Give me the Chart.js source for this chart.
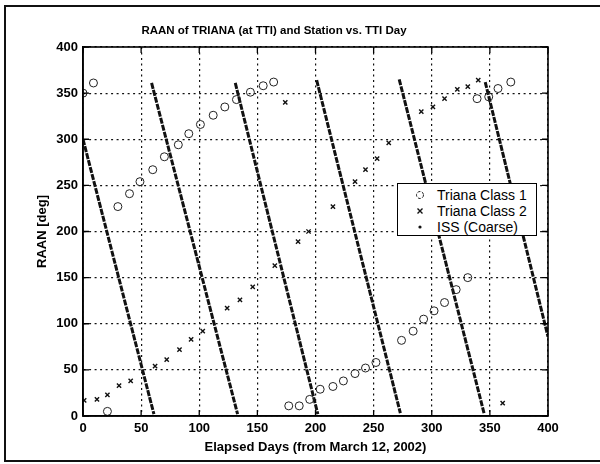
<!DOCTYPE html>
<html><head><meta charset="utf-8">
<script src="https://cdn.jsdelivr.net/npm/chart.js@4"></script>
<style>
html,body{margin:0;padding:0;background:#fff;}
#wrap{position:relative;width:600px;height:464px;overflow:hidden;background:#fff;}
#c{position:absolute;left:0;top:0;}
.frame{position:absolute;background:#111;}
#legend{position:absolute;left:397px;top:183px;width:140px;height:53px;border:1px solid #000;background:#fff;font-family:"Liberation Sans",Arial,sans-serif;font-size:14px;color:#000;box-sizing:border-box;}
.row{position:absolute;left:0;width:138px;height:16px;line-height:16px;}
.row svg{position:absolute;left:17px;top:3px;}
.row span{position:absolute;left:39px;top:0;white-space:nowrap;}
</style></head>
<body>
<div id="wrap">
<canvas id="c" width="600" height="464"></canvas>
<div class="frame" style="left:4px;top:5px;width:2px;height:457px;"></div>
<div class="frame" style="left:4px;top:5px;width:596px;height:2px;"></div>
<div class="frame" style="left:4px;top:460px;width:596px;height:2px;"></div>
<div id="legend"></div>
</div>
<script>
// ---- data ----
const chartTitle = 'RAAN of TRIANA (at TTI) and Station vs. TTI Day';
const xTitle = 'Elapsed Days (from March 12, 2002)';
const yTitle = 'RAAN [deg]';
const seriesNames = ['Triana Class 1', 'Triana Class 2', 'ISS (Coarse)'];

const class1Days = [0, 9, 21, 30, 40, 49, 60, 70, 82, 91, 101, 112, 122, 132, 144, 155, 164, 177, 186, 195, 204, 215, 224, 234, 243, 252, 274, 284, 293, 302, 311, 321, 331, 339, 349, 357, 368];
const class1Raan = [350, 361, 5, 227, 241, 254, 267, 281, 294, 306, 316, 326, 335, 343, 351, 358, 362, 11, 11, 18, 29, 32, 38, 46, 52, 58, 82, 92, 105, 114, 123, 137, 150, 344, 346, 355, 362];

const class2Days = [1, 12, 21, 31, 41, 62, 72, 83, 93, 103, 124, 135, 146, 165, 174, 185, 194, 215, 234, 243, 253, 263, 291, 301, 311, 322, 331, 340, 361];
const class2Raan = [17, 18, 23, 33, 38, 54, 61, 72, 83, 92, 117, 126, 140, 163, 340, 189, 200, 227, 254, 267, 279, 296, 330, 335, 344, 354, 357, 364, 14];

// ISS coarse tracks: each sweep starts high and falls to low RAAN
const issStartDay  = [0, 59, 131, 201, 272, 346];
const issStartRaan = [300, 361, 361, 364, 365, 362];
const issEndDay    = [61, 133, 202, 273, 345, 400];
const issEndRaan   = [2, 2, 2, 3, 3, 86];

const xTickMin = 0, xTickMax = 400, xTickStep = 50;
const yTickMin = 0, yTickMax = 400, yTickStep = 50;

// ---- build datasets ----
const FONT = '"Liberation Sans", Arial, sans-serif';
const pts = (xs, ys) => xs.map((d, i) => ({x: d, y: ys[i]}));
const issData = [];
issStartDay.forEach((d, i) => {
  issData.push({x: d, y: issStartRaan[i]});
  issData.push({x: issEndDay[i], y: issEndRaan[i]});
  if (i < issStartDay.length - 1) issData.push({x: issEndDay[i], y: null});
});

const frameTicks = {
  id: 'frameTicks',
  afterDraw(chart) {
    const {ctx, chartArea: a, scales: {x, y}} = chart;
    ctx.save();
    ctx.strokeStyle = '#000';
    ctx.lineWidth = 1.6;
    ctx.setLineDash([]);
    ctx.strokeRect(a.left, a.top, a.right - a.left, a.bottom - a.top);
    ctx.lineWidth = 1.3;
    const L = 6;
    ctx.beginPath();
    x.ticks.forEach(t => {
      const px = x.getPixelForValue(t.value);
      ctx.moveTo(px, a.bottom); ctx.lineTo(px, a.bottom - L);
      ctx.moveTo(px, a.top); ctx.lineTo(px, a.top + L);
    });
    y.ticks.forEach(t => {
      const py = y.getPixelForValue(t.value);
      ctx.moveTo(a.left, py); ctx.lineTo(a.left + L, py);
      ctx.moveTo(a.right, py); ctx.lineTo(a.right - L, py);
    });
    ctx.stroke();
    ctx.restore();
  }
};

new Chart(document.getElementById('c'), {
  type: 'scatter',
  data: {
    datasets: [
      {
        label: seriesNames[0], data: pts(class1Days, class1Raan),
        pointStyle: 'circle', pointRadius: 4, borderWidth: 1,
        borderColor: '#222', backgroundColor: 'rgba(0,0,0,0)', showLine: false
      },
      {
        label: seriesNames[1], data: pts(class2Days, class2Raan),
        pointStyle: 'crossRot', pointRadius: 3, borderWidth: 1.4,
        borderColor: '#111', backgroundColor: '#111', showLine: false
      },
      {
        label: seriesNames[2], data: issData, type: 'line',
        showLine: true, spanGaps: false, pointRadius: 0, borderWidth: 3,
        borderColor: '#111', borderDash: [6, 1.2], fill: false, tension: 0
      }
    ]
  },
  options: {
    responsive: false, animation: false, devicePixelRatio: 1,
    layout: {padding: {left: 0, right: 52, top: 0, bottom: 0}},
    plugins: {
      legend: {display: false},
      tooltip: {enabled: false},
      title: {
        display: true, text: chartTitle, color: '#000',
        font: {family: FONT, size: 11.5, weight: 'bold', lineHeight: 1.2},
        padding: {top: 24.1, bottom: 9.1}
      }
    },
    scales: {
      x: {
        type: 'linear', min: xTickMin, max: xTickMax,
        ticks: {stepSize: xTickStep, color: '#000', padding: 5,
                font: {family: FONT, size: 13, weight: 'bold'}},
        grid: {color: '#111', lineWidth: 1.2, drawTicks: false},
        border: {display: true, color: '#000', width: 1.6, dash: [2, 3.5]},
        title: {display: true, text: xTitle, color: '#000',
                font: {family: FONT, size: 13, weight: 'bold', lineHeight: 1.2},
                padding: {top: 0, bottom: 9.2}},
        afterFit: s => { s.height = 48; }
      },
      y: {
        type: 'linear', min: yTickMin, max: yTickMax,
        ticks: {stepSize: yTickStep, color: '#000', padding: 5,
                font: {family: FONT, size: 13, weight: 'bold'}},
        grid: {color: '#111', lineWidth: 1.2, drawTicks: false},
        border: {display: true, color: '#000', width: 1.6, dash: [2, 3.5]},
        title: {display: true, text: yTitle, color: '#000',
                font: {family: FONT, size: 13, weight: 'bold', lineHeight: 1.2},
                padding: {top: 34.2, bottom: 0}},
        afterFit: s => { s.width = 83; }
      }
    }
  },
  plugins: [frameTicks]
});

// ---- legend (HTML text) ----
const markers = [
  '<svg width="10" height="10"><circle cx="5" cy="5" r="3.5" fill="none" stroke="#222" stroke-width="1" stroke-dasharray="3 1.5"/></svg>',
  '<svg width="10" height="10"><path d="M2.5 2.5 L7.5 7.5 M7.5 2.5 L2.5 7.5" stroke="#111" stroke-width="1.4"/></svg>',
  '<svg width="10" height="10"><circle cx="5" cy="5" r="1.6" fill="#111"/></svg>'
];
const leg = document.getElementById('legend');
seriesNames.forEach((n, i) => {
  const r = document.createElement('div');
  r.className = 'row';
  r.style.top = (3 + i * 16) + 'px';
  r.innerHTML = markers[i] + '<span></span>';
  r.querySelector('span').textContent = n;
  leg.appendChild(r);
});
</script>
</body></html>
